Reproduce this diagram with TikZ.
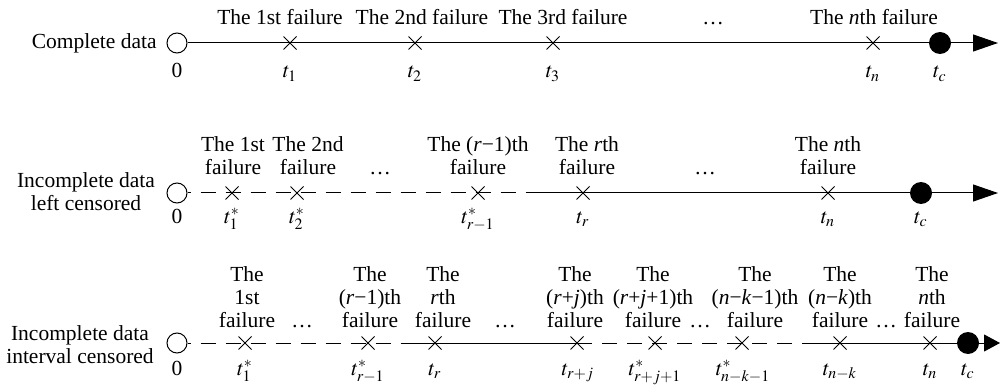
\documentclass[tikz,border=0pt]{standalone}
\usepackage{mathptmx}
\usepackage{fontspec}
\setmainfont{Liberation Serif}
\usetikzlibrary{arrows.meta,shapes.misc}
\begin{document}
\begin{tikzpicture}[x=0.5pt,y=-0.5pt,
  every node/.style={font=\fontsize{10.75}{11.5}\selectfont},
  lbl/.style={align=center,inner sep=0pt,text depth=0pt,anchor=south},
  tlbl/.style={inner sep=0pt,anchor=base},
  openpt/.style={circle,draw,line width=0.5pt,minimum size=10pt,inner sep=0pt},
  closedpt/.style={circle,fill=black,minimum size=11pt,inner sep=0pt},
  fail/.style={cross out,draw,line width=0.5pt,minimum size=6pt,inner sep=0pt},
  axis/.style={line width=0.5pt},
  cens/.style={line width=0.5pt,dash pattern=on 7.5pt off 5pt,dash phase=6pt},
  tipline/.style={line width=0.5pt,-{Triangle[length=12.5pt,width=8.5pt]}}
]
\useasboundingbox (0,0) rectangle (1002,385);

% ---------------- Row 1 ----------------
\node[anchor=base east,inner sep=0pt] (c1) at (157,49) {Complete data};
\node[openpt] (s1) at (177,43) {};
\node[fail] (a11) at (290,43) {};
\node[fail] (a12) at (415,43) {};
\node[fail] (a13) at (553,43) {};
\node[fail] (a14) at (873,43) {};
\node[closedpt] (e1) at (940,43) {};
\coordinate (k1) at (998,43);
\draw[axis] (s1) -- (e1);
\draw[tipline] (e1) -- (k1);

\node[lbl] (l11) at (280,25) {The 1st failure};
\node[lbl] (l12) at (422,25) {The 2nd failure};
\node[lbl] (l13) at (563,25) {The 3rd failure};
\node[lbl] (l1d) at (713,25) {\dots};
\node[lbl] (l14) at (874,25) {The \textit{n}th failure};

\node[tlbl] (z1) at (177,78) {0};
\node[tlbl] (t11) at (290,78) {$t_1$};
\node[tlbl] (t12) at (415,78) {$t_2$};
\node[tlbl] (t13) at (553,78) {$t_3$};
\node[tlbl] (t14) at (873,78) {$t_n$};
\node[tlbl] (t1c) at (940,78) {$t_c$};

% ---------------- Row 2 ----------------
\node[lbl] (c2) at (86,211) {Incomplete data\\left censored};
\node[openpt] (s2) at (177,193) {};
\node[fail] (a21) at (232,193) {};
\node[fail] (a22) at (297,193) {};
\node[fail] (a23) at (478,193) {};
\node[fail] (a24) at (583,193) {};
\node[fail] (a25) at (828,193) {};
\node[closedpt] (e2) at (921,193) {};
\coordinate (d2) at (528,193);
\coordinate (k2) at (998,193);
\draw[cens] (s2) -- (d2);
\draw[axis] (d2) -- (e2);
\draw[tipline] (e2) -- (k2);

\node[lbl] (l21) at (233,175) {The 1st\\failure};
\node[lbl] (l22) at (308,175) {The 2nd\\failure};
\node[lbl] (l2d1) at (380,175) {\dots};
\node[lbl] (l23) at (478,175) {The (\textit{r}−1)th\\failure};
\node[lbl] (l24) at (587,175) {The \textit{r}th\\failure};
\node[lbl] (l2d2) at (705,175) {\dots};
\node[lbl] (l25) at (828,175) {The \textit{n}th\\failure};

\node[tlbl] (z2) at (177,223) {0};
\node[tlbl] (t21) at (232,223) {$t_1^*$};
\node[tlbl] (t22) at (297,223) {$t_2^*$};
\node[tlbl] (t23) at (478,223) {$t_{r-1}^*$};
\node[tlbl] (t24) at (583,223) {$t_r$};
\node[tlbl] (t25) at (828,223) {$t_n$};
\node[tlbl] (t2c) at (921,223) {$t_c$};

% ---------------- Row 3 ----------------
\node[lbl] (c3) at (80,364) {Incomplete data\\interval censored};
\node[openpt] (s3) at (177,343) {};
\node[fail] (a31) at (245,343) {};
\node[fail] (a32) at (368,343) {};
\node[fail] (a33) at (435,343) {};
\node[fail] (a34) at (577,343) {};
\node[fail] (a35) at (655,343) {};
\node[fail] (a36) at (742,343) {};
\node[fail] (a37) at (840,343) {};
\node[fail] (a38) at (930,343) {};
\node[closedpt] (e3) at (968,343) {};
\coordinate (d31) at (412,343);
\coordinate (d32) at (810,343);
\coordinate (k3) at (1000,343);
\draw[cens] (s3) -- (d31);
\draw[axis] (d31) -- (a34.center);
\draw[cens,dash phase=0pt] (a34.center) -- (d32);
\draw[axis] (d32) -- (e3);
\draw[line width=0.5pt,-{Triangle[length=8pt,width=8.5pt]}] (e3) -- (k3);

\node[lbl] (l31) at (247,328) {The\\1st\\failure};
\node[lbl] (l3d1) at (302,328) {\dots};
\node[lbl] (l32) at (370,328) {The\\(\textit{r}−1)th\\failure};
\node[lbl] (l33) at (443,328) {The\\\textit{r}th\\failure};
\node[lbl] (l3d2) at (505,328) {\dots};
\node[lbl] (l34) at (575,328) {The\\(\textit{r}+\textit{j})th\\failure};
\node[lbl] (l35) at (653,328) {The\\(\textit{r}+\textit{j}+1)th\\failure};
\node[lbl] (l3d3) at (700,328) {\dots};
\node[lbl] (l36) at (755,328) {The\\(\textit{n}−\textit{k}−1)th\\failure};
\node[lbl] (l37) at (840,328) {The\\(\textit{n}−\textit{k})th\\failure};
\node[lbl] (l3d4) at (886,328) {\dots};
\node[lbl] (l38) at (932,328) {The\\\textit{n}th\\failure};

\node[tlbl] (z3) at (177,375) {0};
\node[tlbl] (t31) at (245,375) {$t_1^*$};
\node[tlbl] (t32) at (368,375) {$t_{r-1}^*$};
\node[tlbl] (t33) at (435,375) {$t_r$};
\node[tlbl] (t34) at (578,375) {$t_{r+j}$};
\node[tlbl] (t35) at (655,375) {$t_{r+j+1}^*$};
\node[tlbl] (t36) at (743,375) {$t_{n-k-1}^*$};
\node[tlbl] (t37) at (840,375) {$t_{n-k}$};
\node[tlbl] (t38) at (930,375) {$t_n$};
\node[tlbl] (t3c) at (968,375) {$t_c$};
\end{tikzpicture}
\end{document}
